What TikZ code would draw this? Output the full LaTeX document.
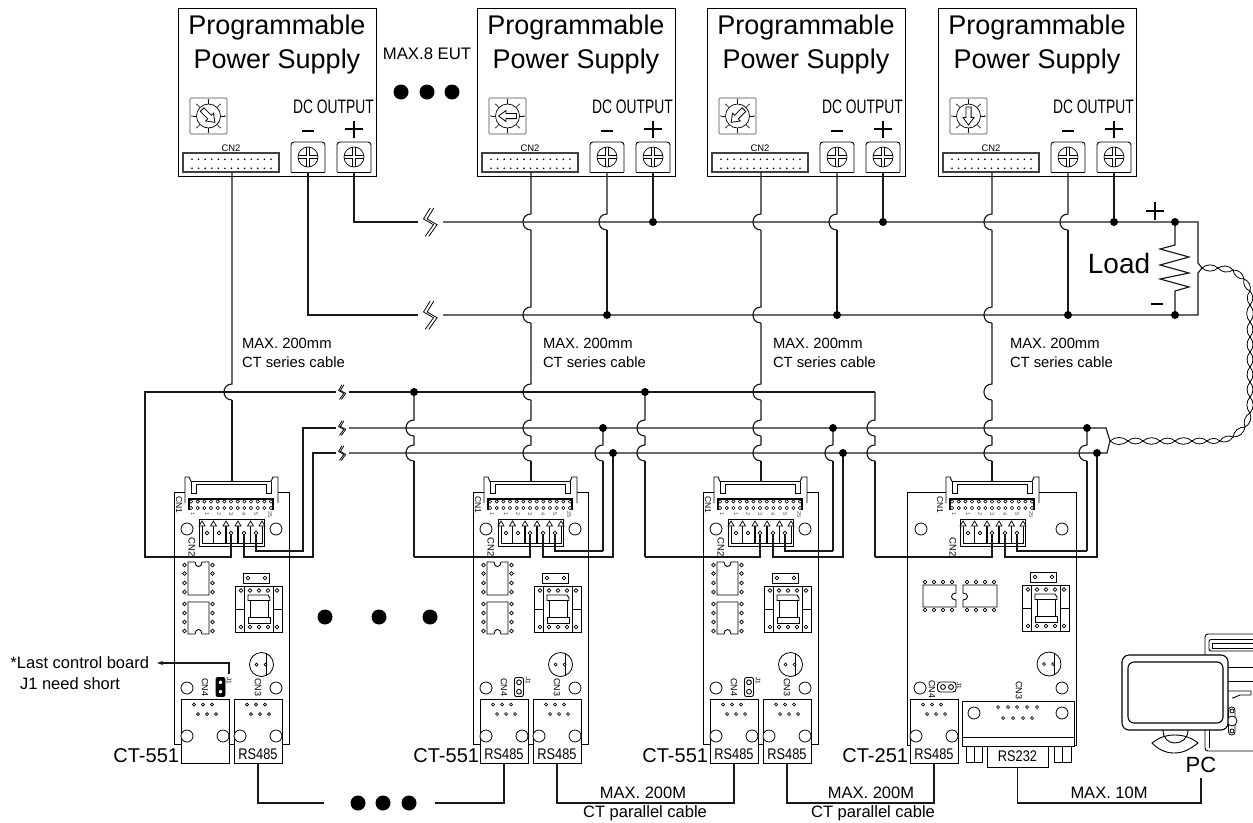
\documentclass[tikz,border=0pt]{standalone}
\usepackage{fontspec}
\setmainfont{Liberation Sans}
\usetikzlibrary{arrows.meta}
\newcommand\fz[1]{\fontsize{#1}{#1}\selectfont}
\newcommand\hopwire[3]{%
  \coordinate (hw-c) at (#1);
  \foreach \hy in {#3}{%
    \coordinate (hw-y1) at (0,\hy-8);
    \coordinate (hw-y2) at (0,\hy+8);
    \coordinate (hw-a) at (hw-c |- hw-y1);
    \coordinate (hw-b) at (hw-c |- hw-y2);
    \draw[wire] (hw-c) -- (hw-a) .. controls ([xshift=-10.7pt]hw-a) and ([xshift=-10.7pt]hw-b) .. (hw-b);
    \coordinate (hw-c) at (hw-b);
  }%
  \draw[wire] (hw-c) -- (hw-c |- #2);
}
\tikzset{
  wire/.style={line width=1.15pt,black!90},
  part/.style={line width=.9pt,black},
  thin part/.style={line width=.55pt,black},
  t/.style={inner sep=0pt,outer sep=0pt,align=center,text=black},
  jdot/.style={circle,fill=black,inner sep=0pt,minimum size=8pt},
  bigdot/.style={circle,fill=black,inner sep=0pt,minimum size=15pt},
  pinhole/.style={line width=.7pt,fill=white},
  pics/brk/.style={code={
    \foreach \s in {-1.8,1.8}{
      \draw[line width=.8pt] (1+\s,-14) -- (-5.7+\s,-3) -- (4.3+\s,2.7) -- (-4+\s,14.3);
    }
  }},
  pics/psu/.style={code={
    \draw[part] (0,8) rectangle (198,176);
    \node[t,font=\fz{27}] (-l1) at (99,28) {Programmable};
    \node[t,font=\fz{27}] (-l2) at (99,62) {Power Supply};
    % dial
    \draw[thin part,rounded corners=1pt,black!70] (12,98) rectangle (49,134);
    \foreach \a in {0,45,...,315}{
      \draw[thin part] (30.5,116) ++(\a:12) -- ++(\a:4);
      \fill[black!70] (30.5,116) ++(\a:16.5) circle[radius=.9pt];
    }
    \draw[line width=.7pt] (30.5,116) circle[radius=12pt];
    \begin{scope}[shift={(30.5,116)},rotate=#1]
      \draw[line width=.8pt,fill=white] (-9,-2.6) -- (1.5,-2.6) -- (1.5,-5.5) -- (9,0) -- (1.5,5.5) -- (1.5,2.6) -- (-9,2.6) -- cycle;
    \end{scope}
    % DC output
    \node[t,font=\fz{19.5}] (-dc) at (155.5,107) {\scalebox{.71}[1]{DC OUTPUT}};
    \draw[line width=2pt] (124,130.7) -- (136,130.7);
    \draw[line width=1.6pt] (167,129) -- (185,129) (176,120.5) -- (176,137.5);
    \node[t,font=\fz{9.5}] (-cnt) at (53,148) {CN2};
    \draw[line width=1.7pt,black!75] (5,153) rectangle (101,172);
    \foreach \i in {0,...,12}{
      \fill ({14+\i*6.58},159.3) circle[radius=.9pt];
      \fill ({14+\i*6.58},168.3) circle[radius=.9pt];
    }
    \foreach \nm/\x in {minus/130,plus/176}{
      \draw[part,rounded corners=3pt] (\x-17,172) -- (\x-17,142) -- (\x+17,142) -- (\x+17,172);
      \draw[part] (\x-17,172) -- (\x+17,172);
      \draw[line width=.7pt] (\x,157) circle[radius=10pt];
      \draw[line width=.6pt] (\x-1.4,147.2) -- (\x-1.4,155.6) -- (\x-9.8,155.6)
                             (\x+1.4,147.2) -- (\x+1.4,155.6) -- (\x+9.8,155.6)
                             (\x-1.4,166.8) -- (\x-1.4,158.4) -- (\x-9.8,158.4)
                             (\x+1.4,166.8) -- (\x+1.4,158.4) -- (\x+9.8,158.4);
      \coordinate (-\nm) at (\x,172);
    }
    \coordinate (-cn2) at (54,172);
  }},
  pics/cntop/.style={code={
    % CN1 header
    \draw[part] (11,503) -- (11,477) -- (15,477) -- (17,481.5) -- (97,481.5) -- (99,477) -- (104,477) -- (104,503);
    \draw[part] (17,481.5) -- (17,493) -- (22,493) -- (22,484) -- (92,484) -- (92,493) -- (97,493) -- (97,481.5);
    \draw[line width=1.3pt] (15,510) -- (15,499) -- (99,499) -- (99,510);
    \foreach \i in {0,...,12}{
      \draw[line width=.55pt,fill=white] ({17+\i*6.67},501.5) circle[radius=1.7pt];
      \draw[line width=.55pt,fill=white] ({17+\i*6.67},508) circle[radius=1.7pt];
    }
    \foreach \i/\tx/\x in {a/1/19,b/1/33,c/2/45,d/3/57,e/4/70,f/5/82,g/25/96}{
      \node[t,font=\fz{5.5},rotate=-90,text=black!70] (-n\i) at (\x,514.5) {\tx};
    }
    \node[t,font=\fz{8.5},rotate=-90] (-cna) at (5,505) {CN1};
    \node[t,font=\fz{9.5},rotate=-90] (-cnb) at (18,547) {CN2};
    % CN2 terminal block
    \draw[line width=1pt] (25,519) rectangle (90,546);
    \foreach \xa/\xb in {28/39,39.5/51,52/63.5,64/76,76.5/88}{
      \draw[line width=.8pt] (\xa,525) -- (\xa,543) -- (\xb,543) -- (\xb,525);
    }
    \foreach \x in {28,39.5,52,64,76.5,88}{
      \draw[line width=.7pt,fill=white] (\x-3,526) -- (\x,521) -- (\x+3,526) -- cycle;
    }
    \foreach \x in {33,45,57,70,82}{
      \draw[line width=.7pt,fill=white] (\x,533) circle[radius=1.9pt];
    }
    \coordinate (-cn1) at (57.5,481.5);
    \coordinate (-p3) at (57,535);
    \coordinate (-p4) at (70,535);
    \coordinate (-p5) at (82,535);
  }},
  pics/vchips/.style={code={
    \draw[part] (14,562) -- (21,562) .. controls (21,568) and (28,568) .. (28,562) -- (35,562) -- (35,595) -- (14,595) -- cycle;
    \draw[part] (14,602) -- (35,602) -- (35,634) -- (28,634) .. controls (28,628) and (21,628) .. (21,634) -- (14,634) -- cycle;
    \foreach \y in {565,573.5,583,592,604,613,622,631}{
      \draw[pinhole] (10.5,\y) circle[radius=1.9pt];
      \draw[pinhole] (38.5,\y) circle[radius=1.9pt];
    }
  }},
  pics/socket/.style={code={
    \draw[part] (69,573) rectangle (95,583);
    \draw[pinhole] (74,578) circle[radius=1.9pt];
    \draw[pinhole] (91,578) circle[radius=1.9pt];
    \draw[part] (61,586) rectangle (108,632);
    \draw[part] (70,586) -- (70,632) (99,586) -- (99,632);
    \draw[part] (61,609) -- (70,609) (99,609) -- (108,609);
    \foreach \x in {67,76,85,94,103}{
      \draw[pinhole] (\x,590.5) circle[radius=1.9pt];
      \draw[pinhole] (\x,627) circle[radius=1.9pt];
    }
    \draw[part] (74,595) -- (94,595) -- (96,598) -- (96,600.5) -- (74,600.5) -- cycle;
    \draw[part] (74,617) rectangle (96,623);
    \draw[part] (76,600.5) -- (76,617) (94,600.5) -- (94,617);
  }},
  pics/capac/.style={code={
    \draw[line width=.8pt] (0,0) circle[radius=12pt];
    \draw[line width=.8pt] (5,-11) -- (5,11);
    \draw[pinhole] (-5,0) circle[radius=1.5pt];
    \draw[pinhole] (4,0) circle[radius=1.5pt];
  }},
  pics/jack/.style={code={
    \draw[part,fill=white] (0,699) rectangle (48,763.5);
    \foreach \x in {13,22,31}{ \draw[pinhole] (\x,704.5) circle[radius=1.5pt]; }
    \foreach \x in {17,26,35}{ \draw[pinhole] (\x,714) circle[radius=1.5pt]; }
    \draw[line width=.8pt,fill=white] (6,736) circle[radius=6pt];
    \draw[line width=.8pt,fill=white] (42,736) circle[radius=6pt];
    \node[t,font=\fz{15.4}] (-txt) at (24,754) {\scalebox{.83}[1]{#1}};
    \coordinate (-bot) at (24,763.5);
  }},
  pics/jumperv/.style={code={
    \draw[line width=.9pt,rounded corners=2pt,fill=#1] (-4.5,-9.5) rectangle (4.5,9.5);
    \draw[pinhole,line width=.9pt] (0,-4.7) circle[radius=2.4pt];
    \draw[pinhole,line width=.9pt] (0,4.7) circle[radius=2.4pt];
  }},
  pics/holes/.style={code={
    \draw[line width=.8pt] (0,529) circle[radius=6pt];
    \draw[line width=.8pt] (#1,529) circle[radius=6pt];
  }},
}
\begin{document}
\begin{tikzpicture}[x=1pt,y=-1pt]
\useasboundingbox (0,0) rectangle (1253,822);
\fill[white] (0,0) rectangle (1253,822);

% ---------- power supplies
\pic (ps1) at (178,0) {psu=-45};
\pic (ps2) at (477,0) {psu=180};
\pic (ps3) at (707,0) {psu=225};
\pic (ps4) at (938,0) {psu=270};
\node[t,font=\fz{16.7}] (eut) at (427,54) {MAX.8 EUT};
\node[bigdot] (ed1) at (401,92) {};
\node[bigdot] (ed2) at (427,92) {};
\node[bigdot] (ed3) at (452,92) {};

% ---------- control boards
\foreach \b/\L in {b1/174,b2/473,b3/703}{
  \draw[part] (\L+11,492) -- (\L,492) -- (\L,744) -- (\L+7,744)
              (\L+55,744) -- (\L+60,744)
              (\L+108,744) -- (\L+115,744) -- (\L+115,492) -- (\L+104,492);
  \pic (\b) at (\L,0) {cntop};
  \pic (\b s) at (\L,0) {socket};
  \pic (\b v) at (\L,0) {vchips};
  \pic (\b h) at (\L+13,0) {holes=89};
  \pic (\b c) at (\L+87.5,664.5) {capac};
  \draw[line width=.8pt] (\L+13,688) circle[radius=6pt];
  \draw[line width=.8pt] (\L+102,688) circle[radius=6pt];
  \node[t,font=\fz{9},rotate=-90] (\b l4) at (\L+31,687) {CN4};
  \node[t,font=\fz{9},rotate=-90] (\b l3) at (\L+84,687) {CN3};
  \node[t,font=\fz{6.5},rotate=-90] (\b lj) at (\L+55,681) {J1};
}
\pic (j1) at (220.5,687) {jumperv=black};
\pic (j2) at (519,687) {jumperv=white};
\pic (j3) at (749,687) {jumperv=white};
\pic (b1jl) at (181,0) {jack={}};
\pic (b1jr) at (234,0) {jack=RS485};
\pic (b2jl) at (480,0) {jack=RS485};
\pic (b2jr) at (533,0) {jack=RS485};
\pic (b3jl) at (710,0) {jack=RS485};
\pic (b3jr) at (763,0) {jack=RS485};

% board 4 (CT-251)
\draw[part] (946,492) -- (907,492) -- (907,745) -- (910,745)
            (1074,745) -- (1076,745) -- (1076,492) -- (1039,492);
\pic (b4) at (935,0) {cntop};
\pic (b4s) at (961,-1) {socket};
\pic (b4h) at (921,0) {holes=141};
\draw[part] (923,585) -- (956,585) -- (956,593) .. controls (950,593) and (950,600) .. (956,600) -- (956,607) -- (923,607) -- cycle;
\draw[part] (997,585) -- (963,585) -- (963,593) .. controls (969,593) and (969,600) .. (963,600) -- (963,607) -- (997,607) -- cycle;
\foreach \x in {925,934,943,952,967,976,985,994}{
  \draw[pinhole] (\x,582) circle[radius=1.9pt];
  \draw[pinhole] (\x,610) circle[radius=1.9pt];
}
\pic (b4c) at (1049,664) {capac};
\draw[line width=.8pt] (920,688) circle[radius=6pt];
\draw[line width=.8pt] (1062,688) circle[radius=6pt];
\node[t,font=\fz{9},rotate=-90] (b4l4) at (932,689) {CN4};
\node[t,font=\fz{9},rotate=-90] (b4l3) at (1019,690) {CN3};
\node[t,font=\fz{6.5},rotate=-90] (b4lj) at (959,686) {J1};
\draw[line width=.9pt,rounded corners=3pt] (937.5,682) rectangle (956,692);
\draw[pinhole,line width=.9pt] (943,687) circle[radius=2.4pt];
\draw[pinhole,line width=.9pt] (951,687) circle[radius=2.4pt];
\pic (b4jl) at (910,0) {jack=RS485};
% D-sub
\draw[part,fill=white] (962,701) rectangle (1074,737);
\draw[line width=.9pt,fill=white] (962,737) rectangle (1074,746);
\draw[line width=.8pt] (974,713) circle[radius=6pt];
\draw[line width=.8pt] (1062,713) circle[radius=6pt];
\foreach \x in {998,1008,1017,1027,1037}{ \draw[pinhole] (\x,707) circle[radius=1.5pt]; }
\foreach \x in {1003,1013,1023,1032}{ \draw[pinhole] (\x,718) circle[radius=1.5pt]; }
\draw[part] (966,746) rectangle (982,762) (974,746) -- (974,762);
\draw[part] (1054,746) rectangle (1071,762) (1062,746) -- (1062,762);
\node[t,draw,line width=.9pt,minimum width=61pt,minimum height=21pt,font=\fz{15.4}] (rs232) at (1017.5,756.5) {\scalebox{.83}[1]{RS232}};

% ---------- model labels
\node[t,anchor=east,font=\fz{20}] (m1) at (179,756) {CT-551};
\node[t,anchor=east,font=\fz{20}] (m2) at (479,756) {CT-551};
\node[t,anchor=east,font=\fz{20}] (m3) at (708,756) {CT-551};
\node[t,anchor=east,font=\fz{20}] (m4) at (908,756) {CT-251};

% ---------- DC bus
\coordinate (plusL) at (418,222);  \coordinate (plusB) at (431,222);  \coordinate (plusR) at (443,222);
\coordinate (minusL) at (418,315); \coordinate (minusB) at (431,315); \coordinate (minusR) at (443,315);
\coordinate (loadP) at (1175,222); \coordinate (loadM) at (1175,315);
\coordinate (cornerP) at (1198,222); \coordinate (cornerM) at (1198,315);
\coordinate (twA) at (1198,263); \coordinate (twB) at (1198,273);
\coordinate (tw0) at (1202,268);
\pic (brkP) at (plusB) {brk};
\pic (brkM) at (minusB) {brk};
\draw[wire] (ps1-plus) |- (plusL);
\draw[wire] (ps1-minus) |- (minusL);
\draw[wire] (plusR) -- (cornerP) -- (twA) -- (tw0) -- (twB) -- (cornerM) -- (minusR);
\foreach \p in {2,3,4}{
  \coordinate (jm\p) at (ps\p-minus |- minusR);
  \coordinate (jp\p) at (ps\p-plus |- plusR);
  \hopwire{ps\p-minus}{jm\p}{222}
  \draw[wire] (ps\p-plus) -- (jp\p);
  \node[jdot] (djm\p) at (jm\p) {};
  \node[jdot] (djp\p) at (jp\p) {};
}

% load
\draw[wire] (loadP) -- (1175,245) -- (1160,249) -- (1189,257) -- (1160,265) -- (1189,273) -- (1160,279) -- (1189,287) -- (1175,291) -- (loadM);
\node[jdot] (dlp) at (loadP) {};
\node[jdot] (dlm) at (loadM) {};
\node[t,font=\fz{28}] (load) at (1119,263) {Load};
\draw[line width=1.5pt] (1146,211) -- (1164,211) (1155,202) -- (1155,220);
\draw[line width=2pt] (1151,304) -- (1163,304);

% ---------- control bus
\coordinate (aL) at (336,392); \coordinate (aB) at (342.5,392); \coordinate (aR) at (349,392);
\coordinate (bL) at (336,428); \coordinate (bB) at (342.5,428); \coordinate (bR) at (349,428);
\coordinate (cL) at (336,453); \coordinate (cB) at (342.5,453); \coordinate (cR) at (349,453);
\pic[scale=.52] (brkA) at (aB) {brk};
\pic[scale=.52] (brkB) at (bB) {brk};
\pic[scale=.52] (brkC) at (cB) {brk};
\coordinate (a4) at (875,392);
\coordinate (bEnd) at (1106,428); \coordinate (cEnd) at (1107,453);
\coordinate (twZ) at (1110,441);
\draw[wire] (aR) -- (a4);
\draw[wire] (bR) -- (bEnd) -- (twZ) -- (cEnd) -- (cR);

% board 1 connections
\coordinate (f1) at (145,557);
\coordinate (h1) at (303,551);
\coordinate (g1) at (313,557);
\draw[wire] (aL) -| (f1) -| (b1-p3);
\draw[wire] (b1-p5) |- (h1) |- (bL);
\draw[wire] (b1-p4) |- (g1) |- (cL);
\hopwire{ps1-cn2}{b1-cn1}{392}

% boards 2 and 3 connections
\foreach \b/\xa/\xb/\xc in {2/414/603/613,3/645/833/843}{
  \coordinate (da\b) at (\xa,392);  \coordinate (ea\b) at (\xa,557);
  \coordinate (db\b) at (\xb,428);  \coordinate (eb\b) at (\xb,551);
  \coordinate (dc\b) at (\xc,453);  \coordinate (ec\b) at (\xc,557);
  \hopwire{da\b}{ea\b}{428,453}
  \hopwire{db\b}{eb\b}{453}
  \draw[wire] (ea\b) -| (b\b-p3);
  \draw[wire] (eb\b) -| (b\b-p5);
  \draw[wire] (dc\b) |- (b\b-p4 |- ec\b) -- (b\b-p4);
  \node[jdot] (dda\b) at (da\b) {};
  \node[jdot] (ddb\b) at (db\b) {};
  \node[jdot] (ddc\b) at (dc\b) {};
}
% board 4 connections
\coordinate (ea4) at (875,557);
\coordinate (db4) at (1087,428); \coordinate (eb4) at (1087,551);
\coordinate (dc4) at (1097,453); \coordinate (ec4) at (1097,557);
\hopwire{a4}{ea4}{428,453}
\hopwire{db4}{eb4}{453}
\draw[wire] (ea4) -| (b4-p3);
\draw[wire] (eb4) -| (b4-p5);
\draw[wire] (dc4) |- (b4-p4 |- ec4) -- (b4-p4);
\node[jdot] (ddb4) at (db4) {};
\node[jdot] (ddc4) at (dc4) {};

% CN2 cables to boards
\foreach \p in {2,3,4}{
  \hopwire{ps\p-cn2}{b\p-cn1}{222,315,392,428,453}
}

% cable labels
\foreach \i/\x in {1/242,2/543,3/773,4/1010}{
  \node[t,anchor=west,font=\fz{14.8}] (ma\i) at (\x,343) {MAX. 200mm};
  \node[t,anchor=west,font=\fz{14.8}] (mb\i) at (\x,362) {CT series cable};
}

% twisted pair
\foreach \n/\x/\y in {1/1218/268,2/1233/270,3/1244/279,4/1250/291,5/1250/305,6/1250/322,7/1250/337,8/1250/352,9/1250/367,10/1250/382,11/1250/397,12/1250/413,13/1245/427,14/1233/437,15/1220/441,16/1207/441,17/1192/441,18/1175/441,19/1160/441,20/1143/441,21/1128/441}{
  \coordinate (tw\n) at (\x,\y);
}
\foreach \a/\c in {0/1,1/2,2/3,3/4,4/5,5/6,6/7,7/8,8/9,9/10,10/11,11/12,12/13,13/14,14/15,15/16,16/17,17/18,18/19,19/20,20/21}{
  \draw[line width=.8pt] (tw\a) to[bend left=42] (tw\c);
  \draw[line width=.8pt] (tw\a) to[bend right=42] (tw\c);
}
\draw[line width=.8pt] (tw21) to[bend left=42] (twZ);
\draw[line width=.8pt] (tw21) to[bend right=42] (twZ);

% ---------- big dots middle and bottom
\node[bigdot] (md1) at (325,617) {};
\node[bigdot] (md2) at (379,617) {};
\node[bigdot] (md3) at (430,617) {};
\coordinate (ln1) at (324,803); \coordinate (ln2) at (435,803);
\node[bigdot] (bd1) at (358,803) {};
\node[bigdot] (bd2) at (383,803) {};
\node[bigdot] (bd3) at (409,803) {};

% ---------- RS485 chain
\coordinate (row) at (0,803);
\draw[wire] (b1jr-bot) |- (ln1);
\draw[wire] (b2jl-bot) |- (ln2);
\draw[wire] (b2jr-bot) -- (b2jr-bot |- row) -- (b3jl-bot |- row) -- (b3jl-bot);
\draw[wire] (b3jr-bot) -- (b3jr-bot |- row) -- (b4jl-bot |- row) -- (b4jl-bot);
\coordinate (pcw) at (1201,778);
\draw[wire] (rs232.south) -- (rs232.south |- row) -- (pcw |- row) -- (pcw);
\node[t,font=\fz{16.5}] (l1) at (643,793) {MAX. 200M};
\node[t,font=\fz{16.5}] (l2) at (645,813) {CT parallel cable};
\node[t,font=\fz{16.5}] (l3) at (871,793) {MAX. 200M};
\node[t,font=\fz{16.5}] (l4) at (873,813) {CT parallel cable};
\node[t,font=\fz{16.5}] (l5) at (1109,793) {MAX. 10M};

% ---------- J1 note
\node[t,anchor=east,font=\fz{16.5}] (n1) at (149,663) {*Last control board};
\node[t,anchor=east,font=\fz{16.5}] (n2) at (120,683.5) {J1 need short};
\coordinate (j1top) at (229,674);
\coordinate (arr) at (157,663);
\draw[wire,-{Stealth[length=6pt,width=4pt]}] (j1top) |- (arr);

% ---------- PC
\draw[part,rounded corners=3pt] (1253,634) -- (1205,634) -- (1205,751) -- (1253,751);
\draw[part,rounded corners=2pt] (1253,639.5) -- (1209,639.5) -- (1209,651) -- (1253,651);
\draw[part] (1212,643) -- (1253,643) (1212,648) -- (1253,648) (1212,643) -- (1212,648);
\draw[part] (1209,730) -- (1209,748);
\draw[part] (1226,667) -- (1253,667) (1226,681) -- (1253,681);
\draw[part] (1226,691) -- (1251,691) -- (1251,695) -- (1240,695) .. controls (1237,695) and (1236,698) .. (1232,698);
\draw[line width=.8pt,rounded corners=3pt] (1228.5,707) rectangle (1235,735);
\draw[line width=.8pt,fill=white] (1232,721) circle[radius=5pt];
\draw[line width=.8pt] (1232,711) circle[radius=2pt];
\draw[line width=.8pt] (1232,731) circle[radius=2pt];
\draw[line width=1.1pt,fill=white,rounded corners=7pt] (1122,655) rectangle (1228,730);
\draw[line width=1.1pt,rounded corners=6pt] (1128,662) rectangle (1223,723);
\draw[part,fill=white] (1152,743) .. controls (1160,737) and (1166,735) .. (1175,735) .. controls (1184,735) and (1192,738) .. (1198,743) .. controls (1190,749) and (1184,753) .. (1174,753) .. controls (1165,753) and (1158,749) .. (1152,743) -- cycle;
\draw[part] (1163,730) .. controls (1163,738) and (1168,743) .. (1175,743) .. controls (1182,743) and (1188,738) .. (1188,730);
\node[t,font=\fz{22}] (pc) at (1201,765) {PC};
\end{tikzpicture}
\end{document}
